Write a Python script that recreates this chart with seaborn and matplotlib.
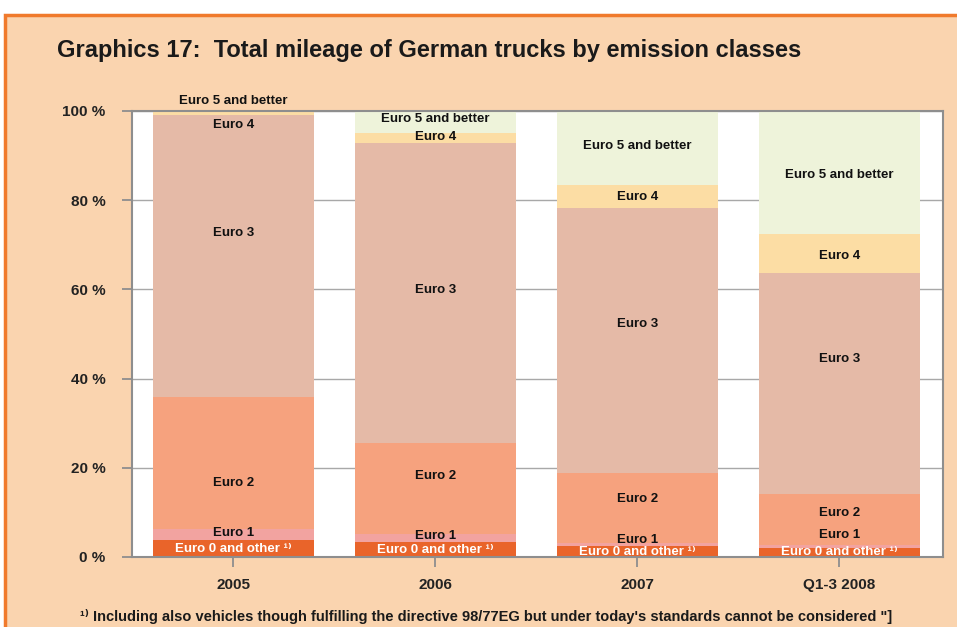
import matplotlib.pyplot as plt
import matplotlib.patches as mpatches
import pandas as pd
import seaborn as sns

years = ["2005", "2006", "2007", "Q1-3 2008"]
classes = ["Euro 0 and other ¹⁾", "Euro 1", "Euro 2", "Euro 3", "Euro 4", "Euro 5 and better"]

# shares in percent, bottom to top
euro0 = [3.8, 3.4, 2.5, 2.0]
euro1 = [2.5, 1.8, 0.6, 0.7]
euro2 = [29.6, 20.3, 15.7, 11.4]
euro3 = [63.3, 67.3, 59.5, 49.6]
euro4 = [0.6, 2.2, 5.1, 8.7]
euro5 = [0.2, 5.0, 16.6, 27.6]

# where the original puts each label (percent height)
lab0 = [1.7, 1.5, 1.2, 1.2]
lab1 = [5.4, 4.6, 3.8, 4.9]
lab2 = [16.6, 18.2, 13.0, 9.9]
lab3 = [72.6, 59.9, 52.2, 44.4]
lab4 = [96.9, 94.2, 80.7, 67.5]
lab5 = [102.3, 98.2, 92.2, 85.7]

colors = ["#E9642A", "#F2A3A0", "#F6A27E", "#E5BAA7", "#FCDDA4", "#EEF3DA"]
BG = "#FAD4AF"
FONT = ["Liberation Sans", "DejaVu Sans"]

sns.set_theme(style="white")
plt.rcParams["font.family"] = FONT

series = [euro0, euro1, euro2, euro3, euro4, euro5]
labels_y = [lab0, lab1, lab2, lab3, lab4, lab5]

rows = []
for i, y in enumerate(years):
    top = 0.0
    for k, cls in enumerate(classes):
        top += series[k][i]
        rows.append({"year": y, "cls": cls, "top": top})
df = pd.DataFrame(rows)

fig = plt.figure(figsize=(9.57, 6.27), dpi=100)
fig.patch.set_facecolor("white")
frame = mpatches.Rectangle((5 / 957, -0.1), 1.2, 1.1 - 15 / 627,
                           transform=fig.transFigure, facecolor=BG,
                           edgecolor="#F07A2C", linewidth=2.5, zorder=-10)
fig.patches.append(frame)

ax = fig.add_axes([132 / 957, 1 - 557 / 627, 811 / 957, 446 / 627])
ax.set_facecolor("white")

# draw cumulative tops from the highest class down so lower classes overlay
for k in range(len(classes) - 1, -1, -1):
    sub = df[df["cls"] == classes[k]]
    sns.barplot(data=sub, x="year", y="top", order=years, color=colors[k],
                width=0.8, saturation=1, linewidth=0, ax=ax, zorder=2)

ax.set_xlim(-0.502, 3.513)
ax.set_ylim(0, 100)
ax.set_yticks([0, 20, 40, 60, 80, 100])
ax.set_yticklabels([f"{v} %" for v in [0, 20, 40, 60, 80, 100]])
ax.set_xlabel("")
ax.set_ylabel("")
ax.set_axisbelow(True)
ax.yaxis.grid(True, color="#A8A8A8", linewidth=1.0)
ax.xaxis.grid(False)
for s in ax.spines.values():
    s.set_visible(True)
    s.set_color("#8E8E8E")
    s.set_linewidth(1.5)
ax.tick_params(axis="y", length=7, width=1.3, color="#8E8E8E", pad=12,
               labelsize=11, left=True)
ax.tick_params(axis="x", length=7, width=1.3, color="#8E8E8E", pad=8,
               labelsize=11, bottom=True)
for t in ax.get_xticklabels() + ax.get_yticklabels():
    t.set_fontweight("bold")
    t.set_color("#222222")

for k, cls in enumerate(classes):
    for i in range(len(years)):
        white = k == 0
        ax.text(i, labels_y[k][i], cls, ha="center", va="center",
                fontsize=9.5, fontweight="bold",
                color="white" if white else "#111111",
                family=FONT, clip_on=False, zorder=5)

fig.text(57 / 957, 1 - 50 / 627,
         "Graphics 17:  Total mileage of German trucks by emission classes",
         ha="left", va="center", fontsize=17, fontweight="bold",
         color="#1A1A1A")
fig.text(80 / 957, 1 - 617 / 627,
         "¹⁾ Including also vehicles though fulfilling the directive 98/77EG "
         "but under today's standards cannot be considered \"]",
         ha="left", va="center", fontsize=10.5, fontweight="bold",
         color="#1A1A1A")

fig.savefig("out.png", dpi=100, facecolor=fig.get_facecolor())
